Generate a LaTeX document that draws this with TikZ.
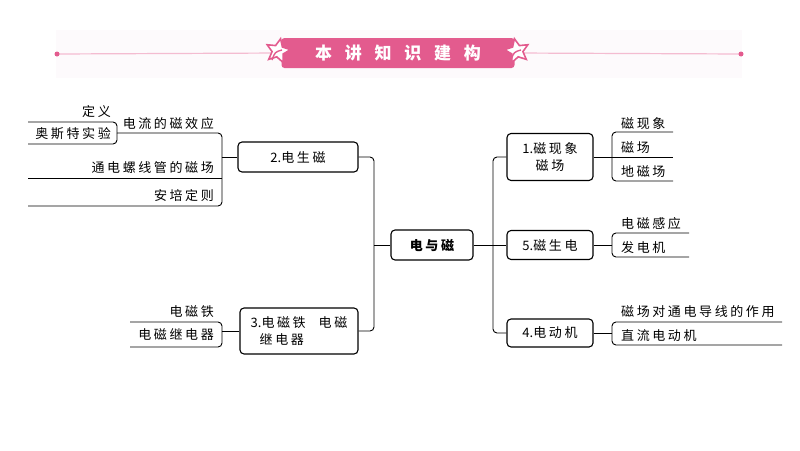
\documentclass[tikz,border=0pt]{standalone}
\usepackage{fontspec}
\usepackage{tikz}
\usetikzlibrary{positioning,shapes.geometric}
\newfontfamily\cjk[LetterSpace=20]{Noto Sans CJK SC}
\newfontfamily\cjknum{Noto Sans CJK SC}
\newfontfamily\cjkhead[LetterSpace=75]{Noto Sans CJK SC}
\newcommand{\num}[1]{{\cjknum #1}}
\definecolor{banner}{HTML}{E35B8E}
\definecolor{bannerline}{HTML}{F4BCD1}
\definecolor{panel}{HTML}{FDFAFC}
\tikzset{
  topic/.style={draw, rounded corners=4pt, line width=1.1pt, inner sep=2pt, font=\cjk\fontsize{13}{17}\selectfont},
  leaf/.style={inner sep=0pt, font=\cjk\fontsize{13}{17}\selectfont},
  link/.style={line width=0.9pt, rounded corners=4pt},
  starbox/.style={star, star points=5, star point ratio=2.1, minimum size=25pt, inner sep=0pt, draw=banner, fill=white, line width=1.6pt},
}

\begin{document}
\begin{tikzpicture}[x=1pt, y=-1pt]
\useasboundingbox (0,0) rectangle (800,450);
% header
\fill[panel] (56,30) rectangle (742,78);
\coordinate (hl) at (57,54);
\coordinate (hr) at (741,54);
\node[draw=none, fill=banner, rounded corners=3pt, minimum width=233pt, minimum height=30pt, inner sep=0pt,
      text=white, font=\cjkhead\bfseries\fontsize{17}{19}\selectfont] (head) at (398,53) {本讲知识建构};
\draw[bannerline, line width=1.2pt] (hl) -- (head.west);
\draw[bannerline, line width=1.2pt] (head.east) -- (hr);
\fill[banner] (hl) circle (2.5pt);
\fill[banner] (hr) circle (2.5pt);
\node[starbox, rotate=-12] (sl) at (278,51) {};
\node[starbox, rotate=12] (sr) at (517,51) {};
\draw[banner, line width=1.4pt] (sl.center) ++(4,-1) .. controls (275,52) .. (272,60);
\draw[banner, line width=1.4pt] (sr.center) ++(4,-1) .. controls (514,52) .. (511,60);

% topics
\node[topic, minimum width=82pt, minimum height=30pt, font=\cjk\bfseries\fontsize{13}{17}\selectfont] (root) at (432,245) {电与磁};
\node[topic, minimum width=120pt, minimum height=30pt] (t2) at (298,157) {\num{2.}电生磁};
\node[topic, minimum width=118pt, minimum height=46pt, align=left] (t3) at (299,331) {\num{3.}电磁铁\quad 电磁\\\hspace*{9pt}继电器};
\node[topic, minimum width=86pt, minimum height=47pt, align=center] (t1) at (550,157) {\num{1.}磁现象\\磁场};
\node[topic, minimum width=86pt, minimum height=29pt] (t5) at (550,245) {\num{5.}磁生电};
\node[topic, minimum width=86pt, minimum height=28pt] (t4) at (550,333) {\num{4.}电动机};

% trunks
\coordinate (lj) at (374,245);
\coordinate (rj) at (493,245);
\draw[link] (t2.east) -| (lj) |- (t3.east);
\draw[link] (root.west) -- (lj);
\draw[link] (t1.west) -| (rj) |- (t4.west);
\draw[link] (root.east) -- (t5.west);

% 1
\coordinate (b1) at (612,157);
\coordinate (e11) at (673,132);
\coordinate (e12) at (673,157);
\coordinate (e13) at (673,181);
\draw[link] (t1.east) -- (b1);
\draw[link] (b1) |- (e11);
\draw[link] (b1) -- (e12);
\draw[link] (b1) |- (e13);
\node[leaf, anchor=base west] (l11) at (621,128) {磁现象};
\node[leaf, anchor=base west] (l12) at (621,152) {磁场};
\node[leaf, anchor=base west] (l13) at (621,176) {地磁场};

% 5
\coordinate (b5) at (612,245);
\coordinate (e51) at (689,233);
\coordinate (e52) at (689,257);
\draw[link] (t5.east) -- (b5);
\draw[link] (b5) |- (e51);
\draw[link] (b5) |- (e52);
\node[leaf, anchor=base west] (l51) at (621,228) {电磁感应};
\node[leaf, anchor=base west] (l52) at (621,252) {发电机};

% 4
\coordinate (b4) at (612,333);
\coordinate (e41) at (782,322);
\coordinate (e42) at (782,345);
\draw[link] (t4.east) -- (b4);
\draw[link] (b4) |- (e41);
\draw[link] (b4) |- (e42);
\node[leaf, anchor=base west] (l41) at (621,316) {磁场对通电导线的作用};
\node[leaf, anchor=base west] (l42) at (621,340) {直流电动机};

% 2
\coordinate (b2) at (222,157);
\coordinate (b2a) at (117,133);
\coordinate (e22) at (28,178);
\coordinate (e23) at (28,206);
\coordinate (e211) at (28,122);
\coordinate (e212) at (28,144);
\draw[link] (t2.west) -- (b2);
\draw[link] (b2) |- (b2a);
\draw[link] (b2) |- (e23);
\draw[link] (b2 |- e22) -- (e22);
\draw[link] (b2a) |- (e211);
\draw[link] (b2a) |- (e212);
\node[leaf, anchor=base east] (l21) at (214,128) {电流的磁效应};
\node[leaf, anchor=base east] (l22) at (214,172) {通电螺线管的磁场};
\node[leaf, anchor=base east] (l23) at (214,200) {安培定则};
\node[leaf, anchor=base east] (l211) at (111,116) {定义};
\node[leaf, anchor=base east] (l212) at (111,138) {奥斯特实验};

% 3
\coordinate (b3) at (222,331);
\coordinate (e31) at (130,322);
\coordinate (e32) at (130,347);
\draw[link] (t3.west) -- (b3);
\draw[link] (b3) |- (e31);
\draw[link] (b3) |- (e32);
\node[leaf, anchor=base east] (l31) at (214,316) {电磁铁};
\node[leaf, anchor=base east] (l32) at (214,339) {电磁继电器};
\end{tikzpicture}
\end{document}
